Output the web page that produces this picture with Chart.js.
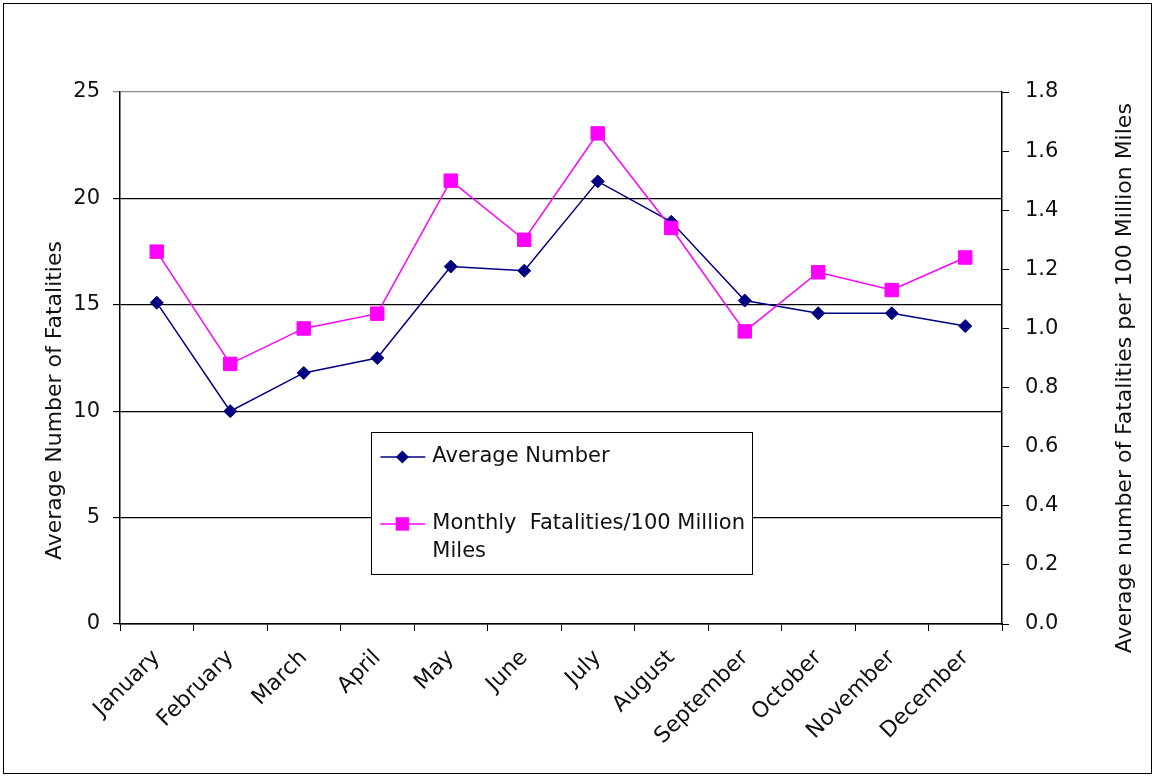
<!DOCTYPE html>
<html>
<head>
<meta charset="utf-8">
<script src="https://cdn.jsdelivr.net/npm/chart.js"></script>
<style>
  body { margin: 0; background: #fff; }
  #wrap { width: 1155px; height: 777px; }
</style>
</head>
<body>
<div id="wrap"><canvas id="myChart" width="1155" height="777"></canvas></div>
<script>
  var months = ["January", "February", "March", "April", "May", "June",
                "July", "August", "September", "October", "November", "December"];
  var avgNumber = [15.1, 10.0, 11.8, 12.5, 16.8, 16.6, 20.8, 18.9, 15.2, 14.6, 14.6, 14.0];
  var ratePer100M = [1.26, 0.88, 1.00, 1.05, 1.50, 1.30, 1.66, 1.34, 0.99, 1.19, 1.13, 1.24];

  var leftTitle = "Average Number of Fatalities";
  var rightTitle = "Average number of Fatalities per 100 Million Miles";
  // legend text, already broken into lines
  var legendLines = [["Average Number"], ["Monthly  Fatalities/100 Million", "Miles"]];

  var navy = "#000080";
  var pink = "#FF00FF";
  var fontName = "'DejaVu Sans', sans-serif";

  Chart.defaults.font.family = fontName;
  Chart.defaults.color = "#111";

  // frame, both axis titles and the boxed legend
  var extras = {
    id: "extras",
    afterDraw: function (chart) {
      var ctx = chart.ctx, a = chart.chartArea;
      var w = a.right - a.left, h = a.bottom - a.top;
      ctx.save();
      ctx.strokeStyle = "#000";
      ctx.lineWidth = 1;
      ctx.strokeRect(3.5, 3.5, chart.width - 7, chart.height - 7);

      ctx.fillStyle = "#111";
      ctx.font = "22px " + fontName;
      ctx.textAlign = "center";
      ctx.textBaseline = "middle";

      ctx.save();
      ctx.translate(chart.scales.y.left + 55, a.top + 0.58 * h);
      ctx.rotate(-Math.PI / 2);
      ctx.fillText(leftTitle, 0, 0);
      ctx.restore();

      ctx.save();
      ctx.translate(chart.scales.y2.right - 30, a.top + 0.538 * h);
      ctx.rotate(-Math.PI / 2);
      ctx.fillText(rightTitle, 0, 0);
      ctx.restore();

      // legend
      var x0 = a.left + 0.285 * w, y0 = a.top + 0.639 * h;
      var x1 = a.left + 0.7166 * w, y1 = a.top + 0.906 * h;
      ctx.fillStyle = "#fff";
      ctx.fillRect(x0, y0, x1 - x0, y1 - y0);
      ctx.strokeStyle = "#000";
      ctx.lineWidth = 1;
      ctx.strokeRect(Math.round(x0) + 0.5, Math.round(y0) + 0.5, Math.round(x1 - x0), Math.round(y1 - y0));

      var rows = [y0 + 25, y0 + 92];
      chart.data.datasets.forEach(function (ds, i) {
        var ly = rows[i];
        ctx.strokeStyle = ds.borderColor;
        ctx.lineWidth = 1.5;
        ctx.beginPath();
        ctx.moveTo(x0 + 9, ly);
        ctx.lineTo(x0 + 54, ly);
        ctx.stroke();
        var mx = x0 + 31;
        ctx.fillStyle = ds.backgroundColor;
        ctx.beginPath();
        if (ds.pointStyle === "rectRot") {
          var r = ds.pointRadius;
          ctx.moveTo(mx - r, ly); ctx.lineTo(mx, ly - r);
          ctx.lineTo(mx + r, ly); ctx.lineTo(mx, ly + r);
          ctx.closePath();
        } else {
          var s = ds.pointRadius * Math.SQRT1_2;
          ctx.rect(mx - s, ly - s, 2 * s, 2 * s);
        }
        ctx.fill();
        ctx.fillStyle = "#111";
        ctx.font = "21px " + fontName;
        ctx.textAlign = "left";
        ctx.textBaseline = "middle";
        legendLines[i].forEach(function (t, k) {
          ctx.fillText(t, x0 + 61, ly + k * 28);
        });
      });
      ctx.restore();
    }
  };

  new Chart("myChart", {
    type: "line",
    data: {
      labels: months,
      datasets: [{
        label: legendLines[0].join(" "),
        data: avgNumber,
        yAxisID: "y",
        borderColor: navy,
        backgroundColor: navy,
        borderWidth: 1.5,
        pointStyle: "rectRot",
        pointRadius: 6.5,
        pointBorderWidth: 1,
        tension: 0,
        order: 1
      }, {
        label: legendLines[1].join(" "),
        data: ratePer100M,
        yAxisID: "y2",
        borderColor: pink,
        backgroundColor: pink,
        borderWidth: 1.5,
        pointStyle: "rect",
        pointRadius: 9.5,
        pointBorderWidth: 1,
        tension: 0,
        order: 0
      }]
    },
    options: {
      responsive: false,
      animation: false,
      layout: { padding: { top: 92, left: 0, right: 0, bottom: 0 } },
      plugins: { legend: { display: false }, tooltip: { enabled: false } },
      scales: {
        x: {
          offset: true,
          afterFit: function (s) { s.height = 153; },
          grid: { offset: true, drawOnChartArea: false, tickLength: 7, color: "#000" },
          border: { color: "#000", width: 1.5 },
          ticks: { autoSkip: false, minRotation: 45, maxRotation: 45, padding: 14, font: { size: 22 }, color: "#111" }
        },
        y: {
          position: "left",
          min: 0, max: 25,
          afterFit: function (s) { s.width = 120; },
          grid: {
            tickLength: 7,
            lineWidth: 1.2,
            color: function (c) { return c.tick && c.tick.value === 25 ? "#8c8c8c" : "#000"; }
          },
          border: { color: "#000", width: 1.5 },
          ticks: { stepSize: 5, padding: 13, font: { size: 21 }, color: "#111" }
        },
        y2: {
          position: "right",
          min: 0, max: 1.8,
          afterFit: function (s) { s.width = 153; },
          grid: { drawOnChartArea: false, tickLength: 7, color: "#000" },
          border: { color: "#000", width: 1.5 },
          ticks: {
            stepSize: 0.2, padding: 16, font: { size: 21 }, color: "#111",
            callback: function (v) { return Number(v).toFixed(1); }
          }
        }
      }
    },
    plugins: [extras]
  });
</script>
</body>
</html>
